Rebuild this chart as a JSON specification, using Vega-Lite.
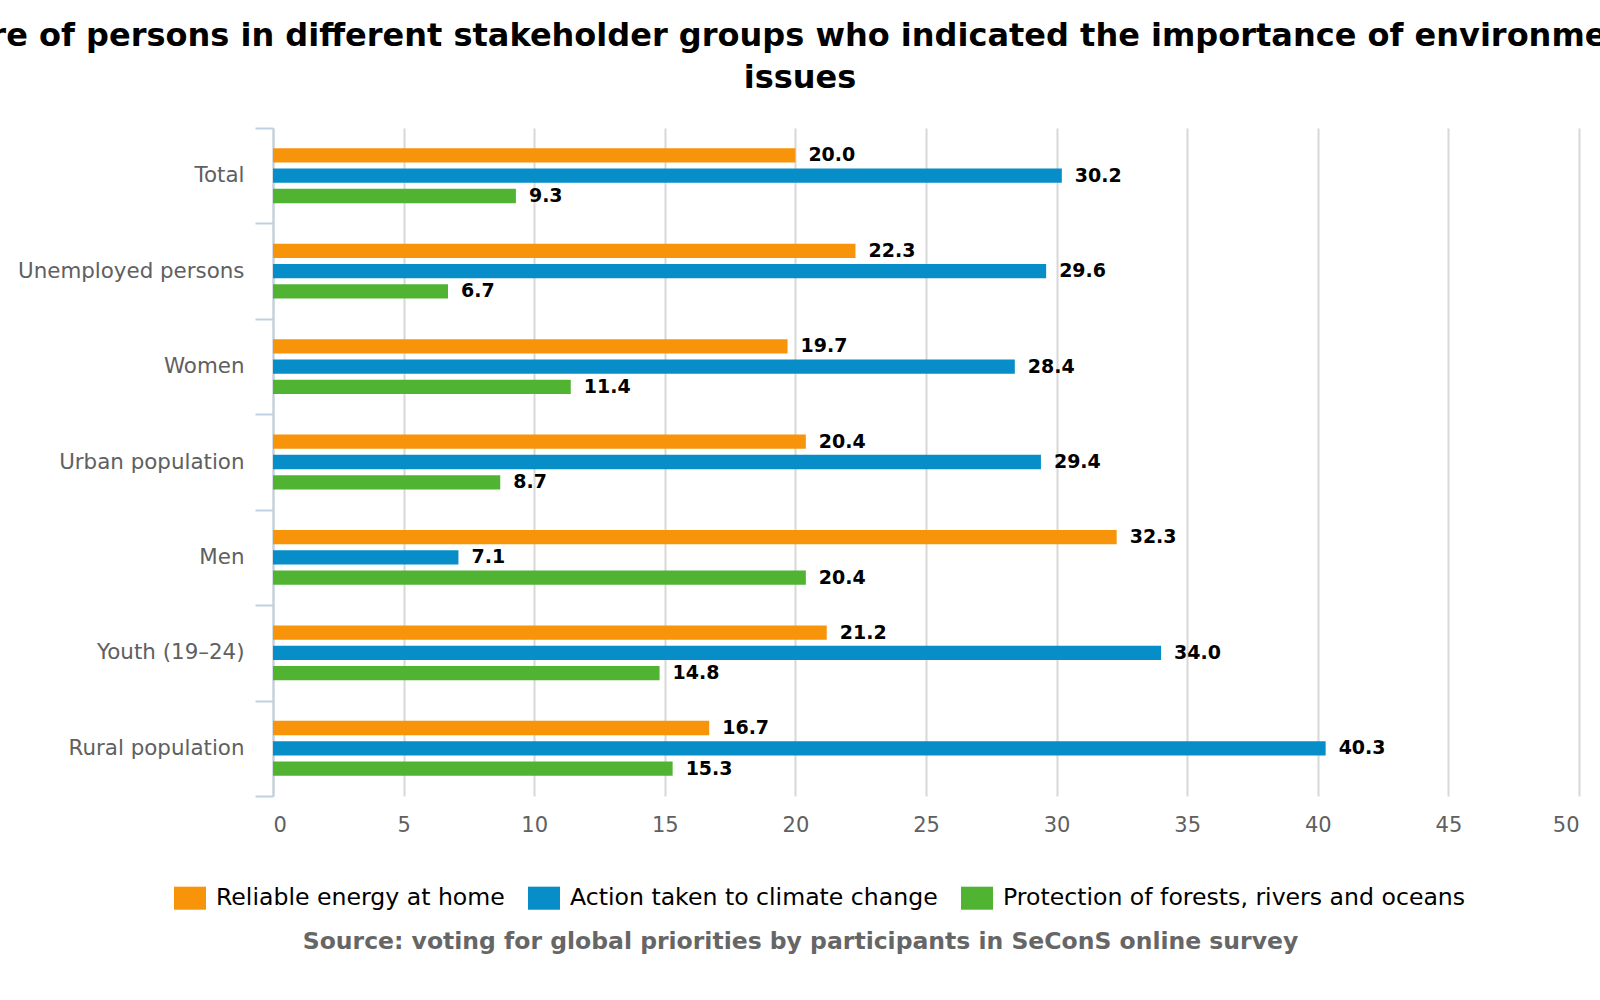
{
  "$schema": "https://vega.github.io/schema/vega-lite/v6.json",
  "width": 1306,
  "height": 668,
  "autosize": {"type": "none"},
  "padding": {"left": 273, "top": 128, "right": 21, "bottom": 204},
  "background": "white",
  "title": {
    "text": [
      "Share of persons in different stakeholder groups who indicated the importance of environmental",
      "issues"
    ],
    "font": "DejaVu Sans",
    "fontSize": 32,
    "fontWeight": "bold",
    "color": "#000000",
    "anchor": "middle",
    "frame": "group",
    "dx": -126,
    "offset": 22,
    "lineHeight": 42
  },
  "config": {"view": {"stroke": null}, "font": "DejaVu Sans"},
  "data": {
    "values": [
      {"group": "Total", "series": "Reliable energy at home", "value": 20.0},
      {"group": "Total", "series": "Action taken to climate change", "value": 30.2},
      {"group": "Total", "series": "Protection of forests, rivers and oceans", "value": 9.3},
      {"group": "Unemployed persons", "series": "Reliable energy at home", "value": 22.3},
      {"group": "Unemployed persons", "series": "Action taken to climate change", "value": 29.6},
      {"group": "Unemployed persons", "series": "Protection of forests, rivers and oceans", "value": 6.7},
      {"group": "Women", "series": "Reliable energy at home", "value": 19.7},
      {"group": "Women", "series": "Action taken to climate change", "value": 28.4},
      {"group": "Women", "series": "Protection of forests, rivers and oceans", "value": 11.4},
      {"group": "Urban population", "series": "Reliable energy at home", "value": 20.4},
      {"group": "Urban population", "series": "Action taken to climate change", "value": 29.4},
      {"group": "Urban population", "series": "Protection of forests, rivers and oceans", "value": 8.7},
      {"group": "Men", "series": "Reliable energy at home", "value": 32.3},
      {"group": "Men", "series": "Action taken to climate change", "value": 7.1},
      {"group": "Men", "series": "Protection of forests, rivers and oceans", "value": 20.4},
      {"group": "Youth (19–24)", "series": "Reliable energy at home", "value": 21.2},
      {"group": "Youth (19–24)", "series": "Action taken to climate change", "value": 34.0},
      {"group": "Youth (19–24)", "series": "Protection of forests, rivers and oceans", "value": 14.8},
      {"group": "Rural population", "series": "Reliable energy at home", "value": 16.7},
      {"group": "Rural population", "series": "Action taken to climate change", "value": 40.3},
      {"group": "Rural population", "series": "Protection of forests, rivers and oceans", "value": 15.3}
    ]
  },
  "encoding": {
    "y": {
      "field": "group",
      "type": "nominal",
      "sort": ["Total", "Unemployed persons", "Women", "Urban population", "Men", "Youth (19–24)", "Rural population"],
      "scale": {"paddingInner": 0, "paddingOuter": 0},
      "axis": {
        "title": null,
        "grid": false,
        "tickBand": "extent",
        "domainColor": "#c0d0e0",
        "domainWidth": 2,
        "tickColor": "#c0d0e0",
        "tickWidth": 2,
        "tickSize": 18,
        "labelFontSize": 21.4,
        "labelColor": "#606060",
        "labelPadding": 11,
        "labelLimit": 0
      }
    },
    "yOffset": {
      "field": "series",
      "sort": ["Reliable energy at home", "Action taken to climate change", "Protection of forests, rivers and oceans"],
      "scale": {"paddingInner": 0.295, "paddingOuter": 1.16}
    },
    "x": {
      "field": "value",
      "type": "quantitative",
      "scale": {"domain": [0, 50], "nice": false},
      "axis": {
        "values": [0, 5, 10, 15, 20, 25, 30, 35, 40, 45, 50],
        "grid": true,
        "gridColor": "#d8d8d8",
        "gridWidth": 2,
        "domain": false,
        "ticks": false,
        "labelFontSize": 21,
        "labelColor": "#606060",
        "labelPadding": 18,
        "title": "Source: voting for global priorities by participants in SeConS online survey",
        "titleFontSize": 23.5,
        "titleFontWeight": "bold",
        "titleColor": "#666666",
        "titleX": 527,
        "titleY": 145,
        "titleBaseline": "middle",
        "titleAlign": "center",
        "titleLimit": 0
      }
    }
  },
  "layer": [
    {
      "mark": {"type": "bar"},
      "encoding": {
        "color": {
          "field": "series",
          "type": "nominal",
          "scale": {
            "domain": ["Reliable energy at home", "Action taken to climate change", "Protection of forests, rivers and oceans"],
            "range": ["#f7940a", "#078dc8", "#50b432"]
          },
          "legend": {
            "title": null,
            "orient": "none",
            "legendX": -99,
            "legendY": 754,
            "direction": "horizontal",
            "padding": 0,
            "labelFontSize": 23.6,
            "labelColor": "#000000",
            "labelOffset": 10,
            "labelLimit": 0,
            "columnPadding": 23,
            "symbolType": "M-1,-0.72H1V0.72H-1Z",
            "symbolSize": 1024,
            "symbolStrokeWidth": 0,
            "symbolOpacity": 1
          }
        }
      }
    },
    {
      "mark": {"type": "text", "align": "left", "baseline": "middle", "dx": 13, "fontWeight": "bold", "fontSize": 19, "color": "#000000"},
      "encoding": {
        "text": {"field": "value", "type": "quantitative", "format": ".1f"}
      }
    }
  ]
}
